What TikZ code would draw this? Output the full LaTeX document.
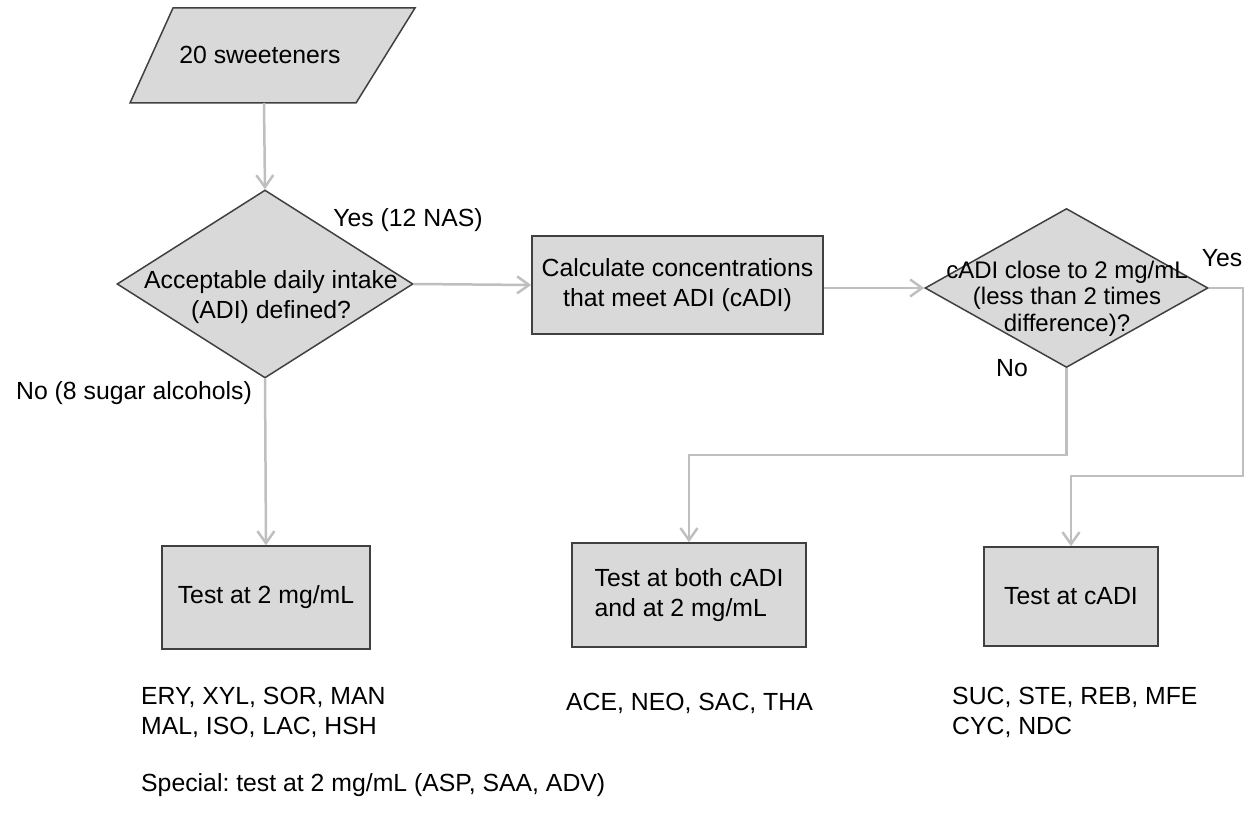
\documentclass[tikz,border=0pt]{standalone}
\usepackage{fontspec}
\setmainfont{Liberation Sans}
\frenchspacing
\usetikzlibrary{arrows.meta,shapes.geometric}
\definecolor{boxfill}{RGB}{217,217,217}
\definecolor{boxline}{RGB}{64,64,64}
\definecolor{connc}{RGB}{191,191,191}
\begin{document}
\begin{tikzpicture}[x=1pt,y=-1pt,
  box/.style={draw=boxline,fill=boxfill,line width=1.5pt,rectangle,inner sep=0pt,font=\fontsize{24.8}{30}\selectfont},
  dia/.style={draw=boxline,fill=boxfill,line width=1.5pt,diamond,inner sep=0pt},
  conn/.style={draw=connc,line width=2.5pt,-{Straight Barb[length=12pt,width=17pt]}},
  lbl/.style={inner sep=0pt,font=\fontsize{24.8}{30}\selectfont},
]
\useasboundingbox (0,0) rectangle (1254,813);

% input parallelogram
\draw[draw=boxline,fill=boxfill,line width=1.5pt] (173,8) -- (415,8) -- (356,103) -- (130,103) -- cycle;
\node[lbl] (src) at (260,55) {20 sweeteners};
\coordinate (srcb) at (264,103);

% decision 1
\node[dia,minimum width=296pt,minimum height=188pt] (d1) at (265,284) {};
\node[lbl,align=center] (d1t) at (271,297) {Acceptable daily intake\\(ADI) defined?};

% calculation
\node[box,align=center,minimum width=291pt,minimum height=98pt] (calc) at (677.5,285) {Calculate concentrations\\that meet ADI (cADI)};

% decision 2
\node[dia,minimum width=283pt,minimum height=159pt] (d2) at (1066.5,288) {};
\node[lbl,align=center,font=\fontsize{24}{26.5}\selectfont] (d2t) at (1067,298.5) {cADI close to 2 mg/mL\\(less than 2 times\\difference)?};

% result boxes
\node[box,minimum width=208pt,minimum height=103pt] (b1) at (266,597.5) {Test at 2 mg/mL};
\node[box,align=left,minimum width=234pt,minimum height=104pt] (b2) at (689,595) {Test at both cADI\\and at 2 mg/mL};
\node[box,minimum width=174pt,minimum height=99pt] (b3) at (1071,596.5) {Test at cADI};

% routing points
\coordinate (noc) at (688,455);
\coordinate (yesc) at (1243,476);

% connectors
\draw[conn] (srcb) -- (d1.north);
\draw[conn] (d1.east) -- (calc.west);
\draw[conn] (calc.east |- d2.west) -- (d2.west);
\draw[conn] (d1.south) -- (b1.north);
\draw[conn] (d2.south) |- (noc) -| (b2.north);
\draw[conn] (d2.east) -| (yesc) -| (b3.north);

% labels
\node[lbl] (yes1) at (408,220) {Yes (12 NAS)};
\node[lbl] (no1) at (134,393) {No (8 sugar alcohols)};
\node[lbl] (yes2) at (1222,258) {Yes};
\node[lbl] (no2) at (1012,368) {No};

% lists
\node[lbl,align=left,anchor=west] (l1) at (141,712) {ERY, XYL, SOR, MAN\\MAL, ISO, LAC, HSH};
\node[lbl] (l2) at (689.5,703) {ACE, NEO, SAC, THA};
\node[lbl,align=left,anchor=west] (l3) at (952,712) {SUC, STE, REB, MFE\\CYC, NDC};
\node[lbl,anchor=west] (sp) at (141,785) {Special: test at 2 mg/mL (ASP, SAA, ADV)};
\end{tikzpicture}
\end{document}
